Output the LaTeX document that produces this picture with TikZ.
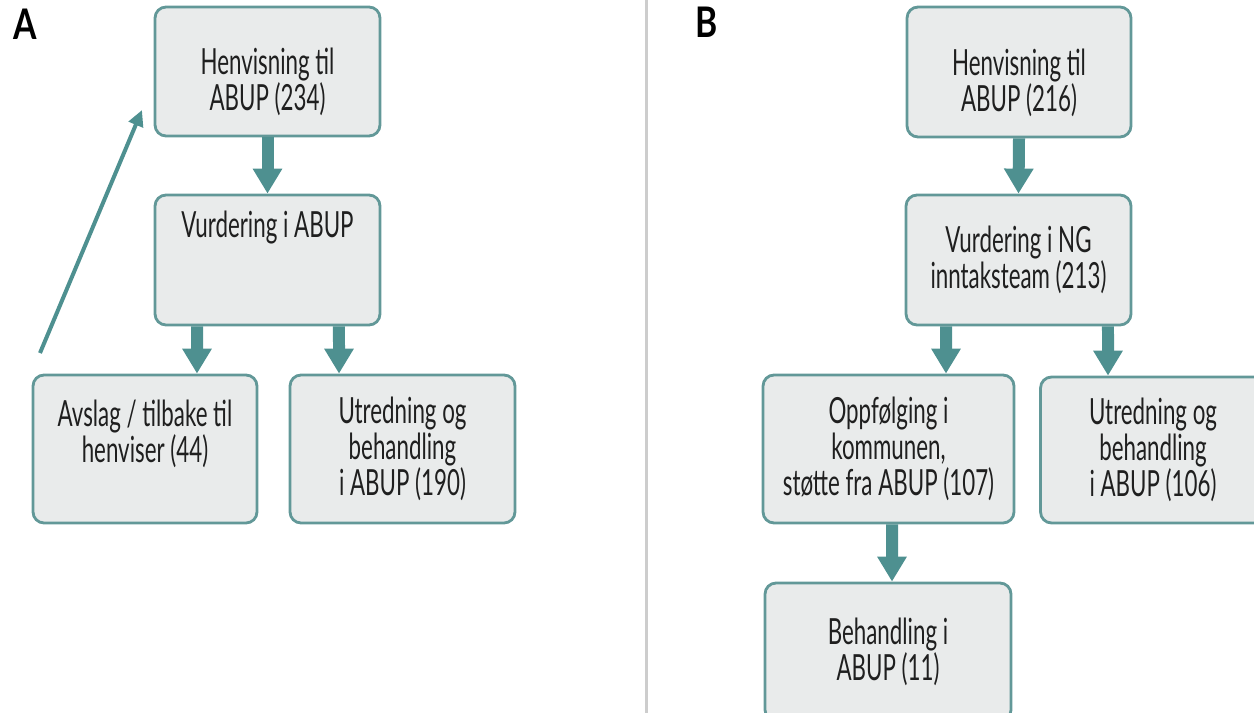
\documentclass[tikz,border=0pt]{standalone}
\usepackage{fontspec}
\setmainfont{Lato}[FakeStretch=0.62]
\newfontfamily\panelfont{Lato}[FakeStretch=0.8]
\usepackage{tikz}
\usetikzlibrary{arrows.meta, positioning}
\definecolor{boxfill}{RGB}{233,235,235}
\definecolor{boxline}{RGB}{98,152,152}
\definecolor{flowteal}{RGB}{78,144,144}
\definecolor{divgray}{RGB}{205,205,205}
\newcommand{\toppad}{\rule{0pt}{0.95cm}}

\begin{document}
\begin{tikzpicture}[x=0.02cm, y=-0.02cm,
    box/.style={draw=boxline, line width=1.6pt, fill=boxfill, rounded corners=0.22cm,
                align=center, inner sep=2pt, text=black!88, font=\fontsize{20.5}{20.5}\selectfont},
    flow/.style={flowteal, line width=0.24cm, -{Triangle[width=0.56cm, length=0.5cm]}},
    back/.style={flowteal, line width=0.08cm, -{Triangle[width=0.3cm, length=0.32cm]}},
    panel/.style={font=\panelfont\fontsize{24}{24}\selectfont\bfseries}]
            \useasboundingbox (0,0) rectangle (1254,713);
            \clip (0,0) rectangle (1254,713);

            % panel A
            \node[panel] at (25,24) (lblA) {A};
            \node[box, minimum width=4.5cm, minimum height=2.58cm] at (267.5,71.5) (h1) {\toppad Henvisning til\\ABUP (234)};
            \node[box, minimum width=4.5cm, minimum height=2.6cm] at (267.5,260) (v1) {Vurdering i ABUP\\\mbox{}\\\mbox{}};
            \node[box, minimum width=4.48cm, minimum height=2.96cm] at (145,449) (avslag) {Avslag / tilbake til\\henviser (44)\\\mbox{}};
            \node[box, minimum width=4.5cm, minimum height=2.96cm] at (402.5,449) (utredA) {Utredning og\\behandling\\i ABUP (190)};

            \draw[flow] (h1.south) -- (v1.north);
            \draw[flow] ([xshift=-1.41cm]v1.south) -- ([xshift=1.04cm]avslag.north);
            \draw[flow] ([xshift=1.43cm]v1.south) -- ([xshift=-1.27cm]utredA.north);
            \coordinate (ret0) at (40,353);
            \coordinate (ret1) at (142,110);
            \draw[back] (ret0) -- (ret1);

            % divider
            \coordinate (divtop) at (646,0);
            \coordinate (divbot) at (646,713);
            \draw[divgray, line width=0.06cm] (divtop) -- (divbot);

            % panel B
            \node[panel] at (707,22) (lblB) {B};
            \node[box, minimum width=4.48cm, minimum height=2.6cm] at (1019,72) (h2) {\toppad Henvisning til\\ABUP (216)};
            \node[box, minimum width=4.5cm, minimum height=2.6cm] at (1018.5,260) (v2) {Vurdering i NG\\inntaksteam (213)};
            \node[box, minimum width=5.02cm, minimum height=2.96cm] at (888.5,449) (oppf) {Oppfølging i\\kommunen,\\støtte fra ABUP (107)};
            \node[box, minimum width=4.5cm, minimum height=2.92cm] at (1153,450) (utredB) {Utredning og\\behandling\\i ABUP (106)};
            \node[box, minimum width=4.92cm, minimum height=2.76cm] at (888,652) (behand) {Behandling i\\ABUP (11)};

            \draw[flow] (h2.south) -- (v2.north);
            \draw[flow] ([xshift=-1.45cm]v2.south) -- ([xshift=1.15cm]oppf.north);
            \draw[flow] ([xshift=1.79cm]v2.south) -- ([xshift=-0.9cm]utredB.north);
            \draw[flow] ([xshift=0.07cm]oppf.south) -- ([xshift=0.08cm]behand.north);
        \end{tikzpicture}
\end{document}
